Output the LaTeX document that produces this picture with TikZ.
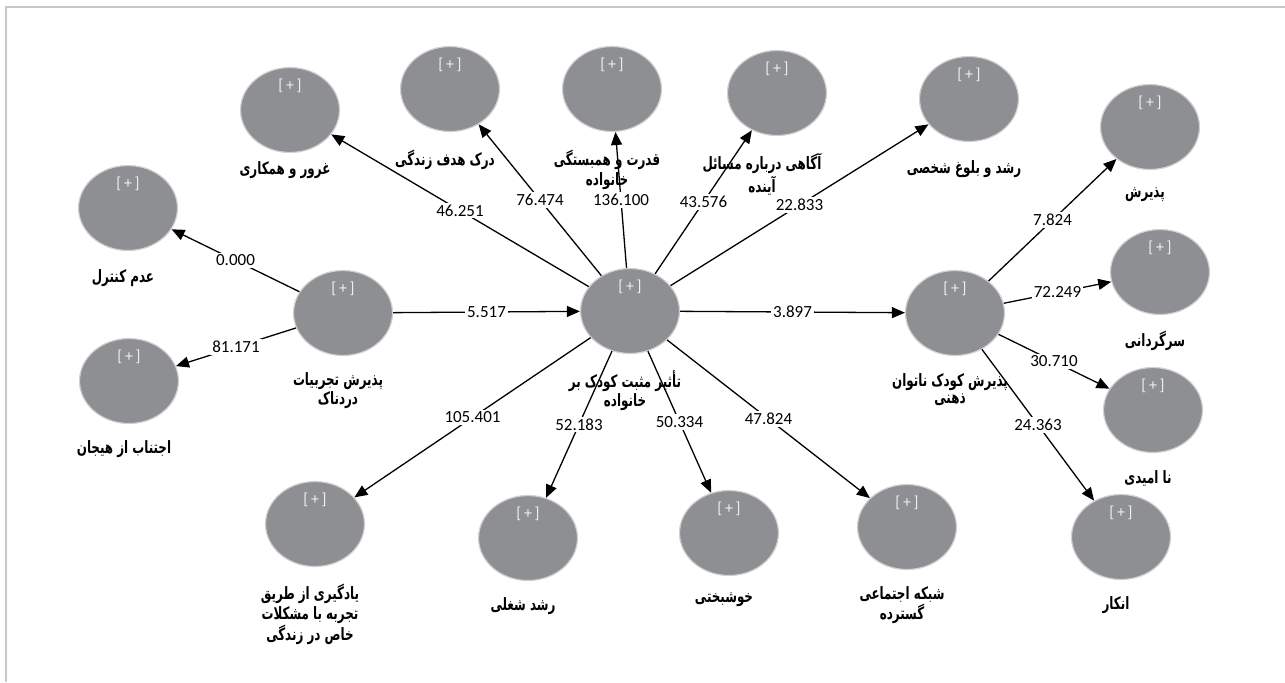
\documentclass[tikz,border=0pt]{standalone}
\usepackage{fontspec}
\usepackage{tikz}
\usetikzlibrary{shapes.geometric,positioning,arrows.meta}
\setmainfont{Carlito}
\newfontfamily\farsi[Script=Arabic,FakeStretch=0.7]{DejaVu Sans}
\TeXXeTstate=1
\newcommand{\fa}[1]{\beginR #1\endR}
\definecolor{lvgray}{RGB}{142,143,147}
\definecolor{framegray}{RGB}{200,200,204}
\definecolor{plusgray}{RGB}{240,240,243}

\begin{document}
\begin{tikzpicture}[x=0.5pt,y=-0.5pt,
	lv/.style={ellipse, fill=lvgray, draw=black!18, line width=0.6pt, minimum width=49.5pt, minimum height=42.5pt, inner sep=0pt, font=\fontsize{8}{9}\selectfont, text=plusgray, text height=0pt, text depth=20pt},
	lvname/.style={font=\farsi\bfseries\fontsize{8.5}{8.5}\selectfont, align=center, inner sep=0pt, xshift=-2.5pt},
	val/.style={fill=white, inner sep=1pt, font=\fontsize{8.5}{10}\selectfont},
	link/.style={-{Triangle[length=6.5pt,width=5.5pt]}, line width=0.65pt},
	frame/.style={draw=framegray, line width=1pt}]
	\useasboundingbox (0,0) rectangle (1285,682);
	\draw[frame] (6,682) -- (6,7) -- (1285,7);
	
	% latent variables
	\node[lv] (impact) at (630,311) {[\,+\,]};
	\node[lv] (painful) at (343,313) {[\,+\,]};
	\node[lv] (noctrl) at (128,208) {[\,+\,]};
	\node[lv] (avoid) at (129,381) {[\,+\,]};
	\node[lv] (pride) at (290,110) {[\,+\,]};
	\node[lv] (goal) at (450,89) {[\,+\,]};
	\node[lv] (power) at (612,89) {[\,+\,]};
	\node[lv] (aware) at (777,93) {[\,+\,]};
	\node[lv] (mature) at (969,99) {[\,+\,]};
	\node[lv] (mentalacc) at (955,313) {[\,+\,]};
	\node[lv] (accept) at (1150,127) {[\,+\,]};
	\node[lv] (confuse) at (1160,272) {[\,+\,]};
	\node[lv] (hopeless) at (1153,410) {[\,+\,]};
	\node[lv] (denial) at (1121,537) {[\,+\,]};
	\node[lv] (network) at (907,527) {[\,+\,]};
	\node[lv] (happy) at (729,533) {[\,+\,]};
	\node[lv] (career) at (528,538) {[\,+\,]};
	\node[lv] (learn) at (315,524) {[\,+\,]};
	
	\node[lvname, below=8pt of impact] (impact-t) {\fa{تأثیر مثبت کودک بر}\\\fa{خانواده}};
	\node[lvname, below=8pt of painful] (painful-t) {\fa{پذیرش تجربیات}\\\fa{دردناک}};
	\node[lvname, below=9pt of noctrl] (noctrl-t) {\fa{عدم کنترل}};
	\node[lvname, below=8pt of avoid] (avoid-t) {\fa{اجتناب از هیجان}};
	\node[lvname, below=4pt of pride] (pride-t) {\fa{غرور و همکاری}};
	\node[lvname, below=9pt of goal] (goal-t) {\fa{درک هدف زندگی}};
	\node[lvname, below=9pt of power] (power-t) {\fa{قدرت و همبستگی}\\\fa{خانواده}};
	\node[lvname, below=8.5pt of aware, xshift=-5pt] (aware-t) {\fa{آگاهی درباره مسائل}\\\fa{آینده}};
	\node[lvname, below=9pt of mature] (mature-t) {\fa{رشد و بلوغ شخصی}};
	\node[lvname, below=8.5pt of mentalacc] (mentalacc-t) {\fa{پذیرش کودک ناتوان}\\\fa{ذهنی}};
	\node[lvname, below=8.5pt of accept] (accept-t) {\fa{پذیرش}};
	\node[lvname, below=8pt of confuse] (confuse-t) {\fa{سرگردانی}};
	\node[lvname, below=8.5pt of hopeless] (hopeless-t) {\fa{نا امیدی}};
	\node[lvname, below=8pt of denial] (denial-t) {\fa{انکار}};
	\node[lvname, below=8pt of network] (network-t) {\fa{شبکه اجتماعی}\\\fa{گسترده}};
	\node[lvname, below=8pt of happy] (happy-t) {\fa{خوشبختی}};
	\node[lvname, below=8pt of career] (career-t) {\fa{رشد شغلی}};
	\node[lvname, below=8.5pt of learn] (learn-t) {\fa{یادگیری از طریق}\\\fa{تجربه با مشکلات}\\\fa{خاص در زندگی}};
	
	% paths
	\draw[link] (painful) -- node[val] (v-noctrl) {0.000} (noctrl);
	\draw[link] (painful) -- node[val] (v-avoid) {81.171} (avoid);
	\draw[link] (painful) -- node[val] (v-impact) {5.517} (impact);
	\draw[link] (impact) -- node[val] (v-pride) {46.251} (pride);
	\draw[link] (impact) -- node[val] (v-goal) {76.474} (goal);
	\draw[link] (impact) -- node[val] (v-power) {136.100} (power);
	\draw[link] (impact) -- node[val] (v-aware) {43.576} (aware);
	\draw[link] (impact) -- node[val] (v-mature) {22.833} (mature);
	\draw[link] (impact) -- node[val] (v-mentalacc) {3.897} (mentalacc);
	\draw[link] (impact) -- node[val] (v-learn) {105.401} (learn);
	\draw[link] (impact) -- node[val] (v-career) {52.183} (career);
	\draw[link] (impact) -- node[val] (v-happy) {50.334} (happy);
	\draw[link] (impact) -- node[val] (v-network) {47.824} (network);
	\draw[link] (mentalacc) -- node[val] (v-accept) {7.824} (accept);
	\draw[link] (mentalacc) -- node[val] (v-confuse) {72.249} (confuse);
	\draw[link] (mentalacc) -- node[val] (v-hopeless) {30.710} (hopeless);
	\draw[link] (mentalacc) -- node[val] (v-denial) {24.363} (denial);
\end{tikzpicture}
\end{document}
